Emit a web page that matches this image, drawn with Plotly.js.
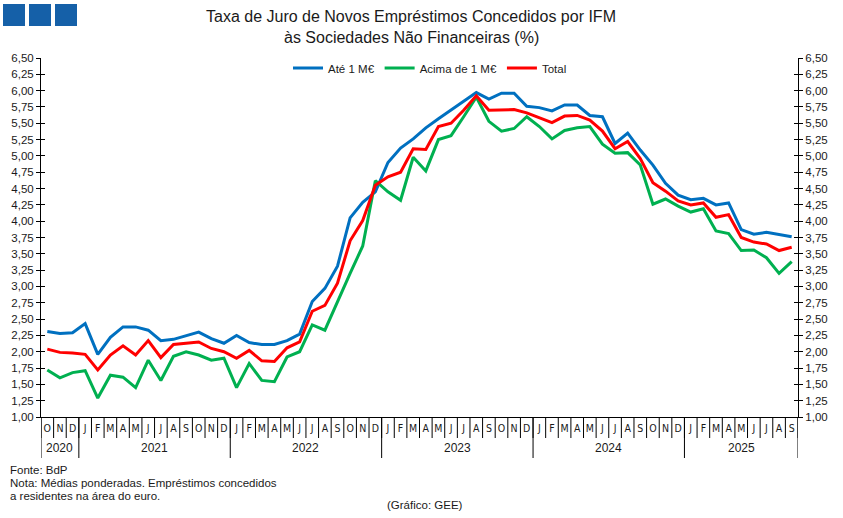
<!DOCTYPE html>
<html><head><meta charset="utf-8">
<script src="https://cdn.plot.ly/plotly-3.0.1.min.js"></script>
<style>html,body{margin:0;padding:0;background:#fff}#chart{width:843px;height:518px}</style>
</head><body><div id="chart"></div>
<script>
// ---- data ----
const monthInitials = ['J','F','M','A','M','J','J','A','S','O','N','D'];
const startYear = 2020, startMonth = 10, nMonths = 60;
const yearLabels = ['2020','2021','2022','2023','2024','2025'];

const ate1M = [2.31,2.28,2.29,2.43,1.96,2.22,2.38,2.38,2.33,2.17,
               2.19,2.24,2.30,2.20,2.13,2.25,2.14,2.11,2.11,2.17,
               2.27,2.77,2.97,3.31,4.05,4.29,4.45,4.90,5.12,5.26,
               5.43,5.57,5.70,5.84,5.97,5.87,5.96,5.96,5.76,5.74,
               5.69,5.78,5.78,5.62,5.60,5.19,5.35,5.09,4.86,4.58,
               4.40,4.33,4.35,4.25,4.28,3.87,3.80,3.83,3.79,3.76];
const acima1M = [1.72,1.60,1.68,1.71,1.29,1.64,1.61,1.45,1.87,1.56,
                 1.93,2.00,1.95,1.87,1.90,1.45,1.82,1.56,1.54,1.92,
                 2.00,2.41,2.33,2.77,3.20,3.62,4.62,4.45,4.32,4.98,
                 4.77,5.25,5.31,5.60,5.90,5.53,5.38,5.42,5.60,5.45,
                 5.26,5.39,5.43,5.45,5.18,5.04,5.05,4.86,4.26,4.34,
                 4.23,4.14,4.19,3.85,3.81,3.55,3.56,3.44,3.20,3.38];
const total = [2.04,1.99,1.98,1.96,1.72,1.95,2.09,1.95,2.17,1.91,
               2.11,2.13,2.15,2.05,2.00,1.90,2.02,1.86,1.85,2.06,
               2.15,2.62,2.71,3.05,3.70,4.01,4.55,4.68,4.75,5.11,
               5.10,5.45,5.50,5.70,5.92,5.70,5.71,5.71,5.66,5.59,
               5.51,5.61,5.62,5.55,5.38,5.11,5.22,4.96,4.59,4.46,
               4.31,4.25,4.28,4.06,4.10,3.75,3.68,3.65,3.55,3.60];
const seriesNames = ['Até 1 M€','Acima de 1 M€','Total'];
const seriesColors = ['#0070C0','#00B050','#FF0000'];
const titleLines = ['Taxa de Juro de Novos Empréstimos Concedidos por IFM', 'às Sociedades Não Financeiras (%)'];

// ---- categories ----
const categories = [], monthLabels = [], yearOf = [];
for (let k = 0; k < nMonths; k++) {
  const m0 = startMonth - 1 + k;
  const y = startYear + Math.floor(m0 / 12);
  const m = m0 % 12;
  categories.push(y + '-' + String(m + 1).padStart(2, '0'));
  monthLabels.push(monthInitials[m]);
  yearOf.push(String(y));
}
const boundaries = [];
for (let k = 0; k <= nMonths; k++) boundaries.push(k - 0.5);

const FONT = 'Liberation Sans, Arial, sans-serif';
const NARROW = 'DejaVu Sans Condensed, Liberation Sans, Arial, sans-serif';
const TXT = '#1a1a1a';

const traces = [ate1M, acima1M, total].map((vals, i) => ({
  type: 'scatter', mode: 'lines', x: categories, y: vals, name: seriesNames[i],
  line: {color: seriesColors[i], width: 3}, hoverinfo: 'skip'
}));

// geometry helpers (margins)
const W = 843, H = 518, L = 41, R = 45, T = 58, B = 101;
const pw = W - L - R, ph = H - T - B;
const px2x = p => (p - L) / pw;
const py2y = p => (H - B - p) / ph;

const shapes = [];
const annotations = [];
// month separators
boundaries.forEach(b => shapes.push({type: 'line', xref: 'x2', yref: 'paper', x0: b, x1: b,
  y0: 0, y1: py2y(438), line: {color: '#000', width: 1}}));
// year separators and labels
yearLabels.forEach(yr => {
  const first = yearOf.indexOf(yr), last = yearOf.lastIndexOf(yr);
  shapes.push({type: 'line', xref: 'x2', yref: 'paper', x0: first - 0.5, x1: first - 0.5,
               y0: 0, y1: py2y(458), line: {color: '#000', width: 1}});
  annotations.push({xref: 'x2', yref: 'paper', x: (first + last) / 2, y: py2y(448),
                    text: yr, showarrow: false, font: {family: FONT, size: 12, color: TXT},
                    xanchor: 'center', yanchor: 'middle'});
});
shapes.push({type: 'line', xref: 'x2', yref: 'paper', x0: nMonths - 0.5, x1: nMonths - 0.5,
             y0: 0, y1: py2y(458), line: {color: '#000', width: 1}});
// logo squares
[3, 29, 55].forEach(x0 => shapes.push({type: 'rect', xref: 'paper', yref: 'paper',
  x0: px2x(x0), x1: px2x(x0 + 22), y0: py2y(26), y1: py2y(4),
  fillcolor: '#1560A8', line: {width: 0}}));

// title
titleLines.forEach((t, i) => annotations.push({xref: 'paper', yref: 'paper', x: px2x(411), y: py2y(17 + 20 * i),
  text: t, showarrow: false, xanchor: 'center', yanchor: 'middle', font: {family: FONT, size: 16, color: TXT}}));

const notes = ['Fonte: BdP', 'Nota: Médias ponderadas. Empréstimos concedidos', 'a residentes na área do euro.'];
notes.forEach((t, i) => annotations.push({xref: 'paper', yref: 'paper', x: px2x(8), y: py2y(470 + 13 * i),
  text: t, showarrow: false, xanchor: 'left', yanchor: 'middle', font: {family: FONT, size: 11.5, color: TXT}}));
annotations.push({xref: 'paper', yref: 'paper', x: px2x(425), y: py2y(505), text: '(Gráfico: GEE)',
  showarrow: false, xanchor: 'center', yanchor: 'middle', font: {family: FONT, size: 11.5, color: TXT}});

const yCommon = {range: [1, 6.5], tick0: 1, dtick: 0.25, tickformat: '.2f', showgrid: false, zeroline: false,
  showline: true, linecolor: '#000', linewidth: 1, tickcolor: '#000', tickwidth: 1, ticklen: 4,
  tickfont: {family: FONT, size: 11.5, color: TXT}, fixedrange: true};

const layout = {
  width: W, height: H, margin: {l: L, r: R, t: T, b: B}, paper_bgcolor: '#fff', plot_bgcolor: '#fff',
  separators: ', ',
  font: {family: FONT, color: TXT},
  showlegend: true,
  legend: {orientation: 'h', x: px2x(430), xanchor: 'center', y: py2y(68), yanchor: 'middle',
           font: {family: FONT, size: 11.5, color: TXT}, bgcolor: 'rgba(0,0,0,0)', itemwidth: 30,
           traceorder: 'normal'},
  xaxis: {type: 'category', range: [-0.5, nMonths - 0.5], tickmode: 'array', tickvals: categories,
          ticktext: monthLabels, ticks: '', ticklabelstandoff: 1, showline: true, linecolor: '#000', linewidth: 1,
          showgrid: false, zeroline: false, tickangle: 0,
          tickfont: {family: NARROW, size: 10.5, color: TXT}, fixedrange: true},
  xaxis2: {type: 'linear', overlaying: 'x', anchor: 'y', side: 'bottom', range: [-0.5, nMonths - 0.5],
           showticklabels: false, ticks: '', showline: false, showgrid: false, zeroline: false, fixedrange: true},
  yaxis: Object.assign({}, yCommon, {ticks: 'outside', side: 'left'}),
  yaxis2: Object.assign({}, yCommon, {ticks: 'outside', side: 'right', overlaying: 'y', matches: 'y'}),
  yaxis3: Object.assign({}, yCommon, {ticks: 'inside', side: 'left', overlaying: 'y', matches: 'y',
          showticklabels: false, mirror: 'ticks'}),
  shapes: shapes,
  annotations: annotations
};

// dummy traces to anchor the extra axes
traces.push({type: 'scatter', x: [categories[0]], y: [null], yaxis: 'y2', showlegend: false, hoverinfo: 'skip'});
traces.push({type: 'scatter', x: [categories[0]], y: [null], yaxis: 'y3', showlegend: false, hoverinfo: 'skip'});
traces.push({type: 'scatter', x: [0], y: [null], xaxis: 'x2', yaxis: 'y', showlegend: false, hoverinfo: 'skip'});

Plotly.newPlot('chart', traces, layout, {displayModeBar: false, staticPlot: true});
</script></body></html>
